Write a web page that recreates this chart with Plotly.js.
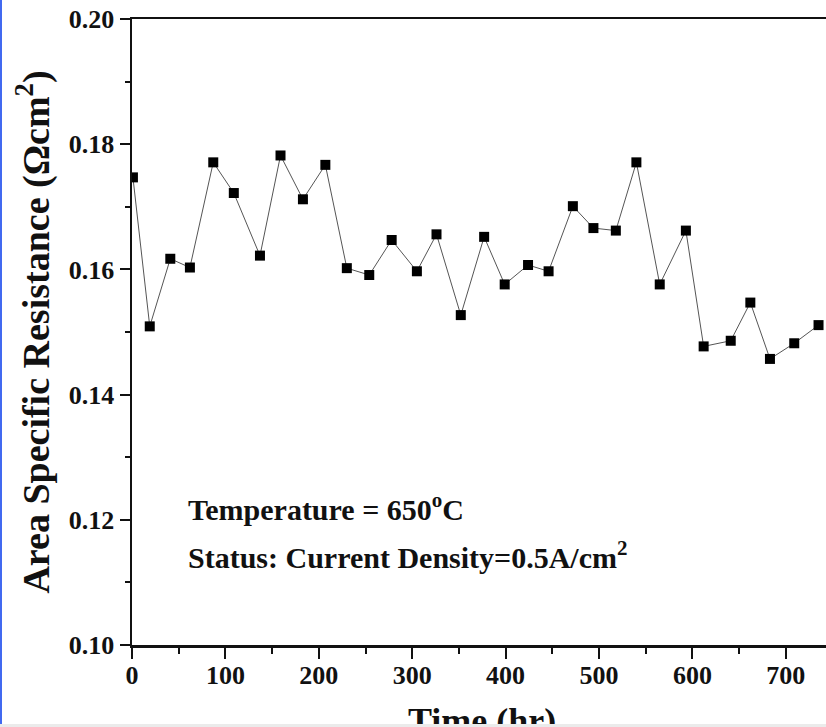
<!DOCTYPE html>
<html>
<head>
<meta charset="utf-8">
<script src="https://cdn.plot.ly/plotly-3.0.1.min.js"></script>
<style>
  html, body { margin: 0; padding: 0; background: #fff; }
  #wrap { position: relative; width: 826px; height: 727px; overflow: hidden; }
  #chart { width: 826px; height: 727px; }
  #lb { position: absolute; left: 0; top: 0; width: 2px; height: 727px; background: #4169f0; }
  #bb { position: absolute; left: 0; top: 724px; width: 826px; height: 3px; background: #ebebeb; }
</style>
</head>
<body>
<div id="wrap">
  <div id="chart"></div>
  <div id="lb"></div>
  <div id="bb"></div>
</div>
<script>
// Data
const timeHr = [1, 19, 41, 62, 87, 109, 137, 159, 183, 207, 230, 254, 278, 305, 326, 352,
                377, 399, 424, 446, 472, 494, 518, 540, 565, 593, 612, 641, 662, 683, 709, 735];
const asr = [0.1747, 0.1509, 0.1617, 0.1603, 0.1771, 0.1722, 0.1622, 0.1782, 0.1712, 0.1767,
             0.1602, 0.1591, 0.1647, 0.1597, 0.1656, 0.1527, 0.1652, 0.1576, 0.1607, 0.1597,
             0.1701, 0.1666, 0.1662, 0.1771, 0.1576, 0.1662, 0.1477, 0.1486, 0.1547, 0.1457,
             0.1482, 0.1511];
const xTitle = 'Time (hr)';
const yTitle = 'Area Specific Resistance (Ωcm<sup>2</sup>)';
const note1 = 'Temperature = 650<sup>o</sup>C';
const note2 = 'Status: Current Density=0.5A/cm<sup>2</sup>';

const serif = 'Liberation Serif, Times New Roman, serif';

const trace = {
  x: timeHr,
  y: asr,
  type: 'scatter',
  mode: 'lines+markers',
  line: { color: '#555', width: 1 },
  marker: { symbol: 'square', size: 10, color: '#000' },
  showlegend: false
};

const layout = {
  width: 826,
  height: 727,
  margin: { l: 132, r: 0, t: 19, b: 82 },
  paper_bgcolor: '#fff',
  plot_bgcolor: '#fff',
  xaxis: {
    range: [0, 743],
    tickmode: 'linear', tick0: 0, dtick: 100,
    ticks: 'outside', ticklen: 11, tickwidth: 2, tickcolor: '#111',
    minor: { dtick: 50, ticks: 'outside', ticklen: 6, tickwidth: 2, tickcolor: '#111' },
    showline: true, linecolor: '#111', linewidth: 2.5, mirror: true,
    showgrid: false, zeroline: false,
    ticklabelstandoff: -6,
    tickfont: { family: serif, size: 26, color: '#111', weight: 'bold' }
  },
  yaxis: {
    range: [0.10, 0.20],
    tickmode: 'linear', tick0: 0.10, dtick: 0.02, tickformat: '.2f',
    ticks: 'outside', ticklen: 10, tickwidth: 2, tickcolor: '#111',
    minor: { dtick: 0.01, ticks: 'outside', ticklen: 5, tickwidth: 2, tickcolor: '#111' },
    showline: true, linecolor: '#111', linewidth: 2.5, mirror: false,
    showgrid: false, zeroline: false,
    tickfont: { family: serif, size: 26, color: '#111', weight: 'bold' },
    title: { text: yTitle, font: { family: serif, size: 38, color: '#111', weight: 'bold' }, standoff: 8 }
  },
  annotations: [
    { xref: 'paper', yref: 'paper', x: 0.504, y: -0.0863, xanchor: 'center', yanchor: 'top',
      text: xTitle, showarrow: false, font: { family: serif, size: 36, color: '#111', weight: 'bold' } },
    { xref: 'paper', yref: 'paper', x: 0.078, y: 0.221, xanchor: 'left', yanchor: 'middle',
      text: note1, showarrow: false, font: { family: serif, size: 30, color: '#111', weight: 'bold' } },
    { xref: 'paper', yref: 'paper', x: 0.078, y: 0.143, xanchor: 'left', yanchor: 'middle',
      text: note2, showarrow: false, font: { family: serif, size: 30, color: '#111', weight: 'bold' } }
  ]
};

Plotly.newPlot('chart', [trace], layout, { displayModeBar: false, staticPlot: true });
</script>
</body>
</html>
